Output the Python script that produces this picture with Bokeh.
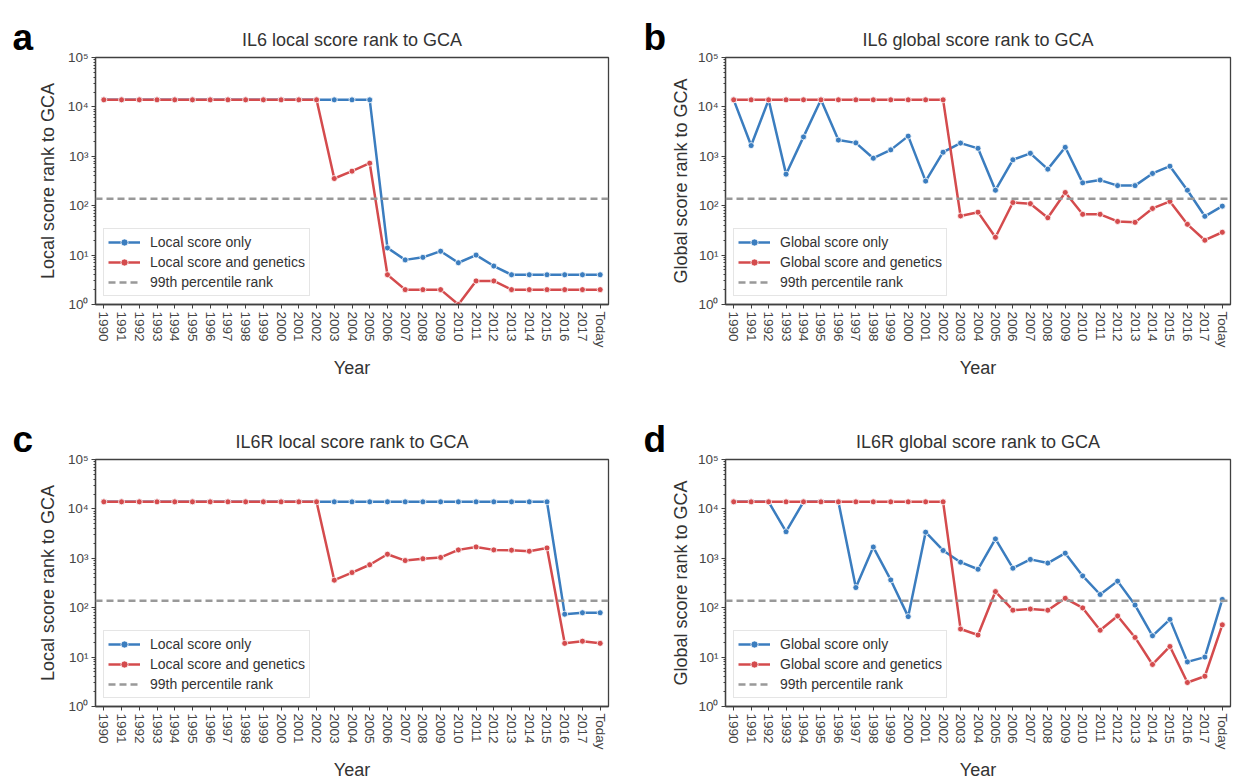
from bokeh.plotting import figure
from bokeh.models import Range1d, FixedTicker, Legend, LegendItem, Span
from bokeh.layouts import column, row
from bokeh.embed import file_html
from bokeh.resources import INLINE

# ---------------- data ----------------
years = ["1990", "1991", "1992", "1993", "1994", "1995", "1996", "1997", "1998", "1999",
         "2000", "2001", "2002", "2003", "2004", "2005", "2006", "2007", "2008", "2009",
         "2010", "2011", "2012", "2013", "2014", "2015", "2016", "2017", "Today"]

percentile_99 = 139

il6_local_only = [13900, 13900, 13900, 13900, 13900, 13900, 13900, 13900, 13900, 13900,
                  13900, 13900, 13900, 13900, 13900, 13900, 14, 8, 9, 12,
                  7, 10, 6, 4, 4, 4, 4, 4, 4]
il6_local_gen = [13900, 13900, 13900, 13900, 13900, 13900, 13900, 13900, 13900, 13900,
                 13900, 13900, 13900, 355, 500, 725, 4, 2, 2, 2,
                 1, 3, 3, 2, 2, 2, 2, 2, 2]

il6_global_only = [13900, 1650, 13900, 435, 2470, 13900, 2130, 1870, 915, 1350,
                   2560, 315, 1210, 1850, 1450, 206, 850, 1150, 550, 1520,
                   290, 330, 255, 255, 450, 630, 206, 61, 98]
il6_global_gen = [13900, 13900, 13900, 13900, 13900, 13900, 13900, 13900, 13900, 13900,
                  13900, 13900, 13900, 62, 74, 23, 116, 110, 57, 185,
                  67, 67, 48, 46, 88, 122, 42, 20, 29]

il6r_local_only = [13900, 13900, 13900, 13900, 13900, 13900, 13900, 13900, 13900, 13900,
                   13900, 13900, 13900, 13900, 13900, 13900, 13900, 13900, 13900, 13900,
                   13900, 13900, 13900, 13900, 13900, 13900, 74, 79, 79]
il6r_local_gen = [13900, 13900, 13900, 13900, 13900, 13900, 13900, 13900, 13900, 13900,
                  13900, 13900, 13900, 361, 515, 740, 1210, 900, 980, 1040,
                  1480, 1700, 1480, 1460, 1390, 1620, 19, 21, 19]

il6r_global_only = [13900, 13900, 13900, 3450, 13900, 13900, 13900, 256, 1690, 365,
                    66, 3380, 1440, 835, 600, 2470, 630, 950, 800, 1270,
                    440, 185, 345, 113, 27, 58, 8, 10, 147]
il6r_global_gen = [13900, 13900, 13900, 13900, 13900, 13900, 13900, 13900, 13900, 13900,
                   13900, 13900, 13900, 37, 28, 212, 89, 94, 89, 155,
                   99, 35, 68, 25, 7.1, 16.4, 3.06, 4.1, 45]

y_ticks = [1, 10, 100, 1000, 10000, 100000]
y_tick_labels = ["10\u2070", "10\u00b9", "10\u00b2", "10\u00b3", "10\u2074", "10\u2075"]

BLUE = "#3b7dbf"
RED = "#d44b4d"
GREY = "#999999"
FONT = "Liberation Sans"

FH = 247


def make_panel(title, ylabel, only, gen, only_label, gen_label,
               fw, bl, br, bt, bb, label_standoff):
    xs = list(range(len(years)))
    p = figure(frame_width=fw, frame_height=FH,
               x_range=Range1d(-0.47, len(years) - 1 + 0.47),
               y_range=Range1d(1, 1e5), y_axis_type="log",
               output_backend="svg", toolbar_location=None,
               min_border_left=bl, min_border_right=br,
               min_border_top=bt, min_border_bottom=bb,
               title=title)
    p.xgrid.visible = False
    p.ygrid.visible = False
    p.outline_line_color = "#404040"
    p.outline_line_width = 1.3
    p.outline_line_alpha = 1.0

    p.title.align = "center"
    p.title.text_font = FONT
    p.title.text_font_size = "18px"
    p.title.text_font_style = "normal"
    p.title.text_color = "#333333"
    p.title.standoff = 16

    for ax in (p.xaxis[0], p.yaxis[0]):
        ax.axis_line_color = "#404040"
        ax.axis_line_width = 1.3
        ax.major_tick_line_color = "#404040"
        ax.minor_tick_line_color = "#404040"
        ax.major_tick_in = 0
        ax.major_tick_out = 4
        ax.minor_tick_in = 0
        ax.minor_tick_out = 2
        ax.major_label_text_font = FONT
        ax.major_label_text_font_size = "13.5px"
        ax.major_label_text_color = "#444444"
        ax.axis_label_text_font = FONT
        ax.axis_label_text_font_size = "18px"
        ax.axis_label_text_font_style = "normal"
        ax.axis_label_text_color = "#333333"
        ax.major_label_standoff = 3

    p.xaxis.ticker = FixedTicker(ticks=xs)
    p.xaxis.major_label_overrides = {i: y for i, y in enumerate(years)}
    p.xaxis.major_label_orientation = "vertical"
    p.xaxis.axis_label = "Year"
    p.xaxis.axis_label_standoff = 7

    minor = []
    for t in y_ticks[:-1]:
        minor += [t * k for k in range(2, 10)]
    p.yaxis.ticker = FixedTicker(ticks=y_ticks, minor_ticks=minor)
    p.yaxis.major_label_overrides = {t: lab for t, lab in zip(y_ticks, y_tick_labels)}
    p.yaxis.axis_label = ylabel
    p.yaxis.axis_label_standoff = label_standoff

    lb = p.line(xs, only, line_color=BLUE, line_width=2.5)
    sb = p.scatter(xs, only, size=6, fill_color=BLUE, line_color="white", line_width=0.8)
    lr = p.line(xs, gen, line_color=RED, line_width=2.5)
    sr = p.scatter(xs, gen, size=6, fill_color=RED, line_color="white", line_width=0.8)

    p.add_layout(Span(location=percentile_99, dimension="width", line_color=GREY,
                      line_width=2.5, line_dash="7 4"))
    # single-point renderer that only provides the legend swatch for the dashed line
    ld = p.line([xs[0]], [percentile_99], line_color=GREY, line_width=2.5, line_dash="7 4")

    legend = Legend(items=[LegendItem(label=only_label, renderers=[lb, sb]),
                           LegendItem(label=gen_label, renderers=[lr, sr]),
                           LegendItem(label="99th percentile rank", renderers=[ld])],
                    location="bottom_left")
    legend.label_text_font = FONT
    legend.label_text_font_size = "14px"
    legend.label_text_color = "#333333"
    legend.border_line_color = "#cccccc"
    legend.border_line_width = 1
    legend.background_fill_alpha = 0.8
    legend.glyph_width = 32
    legend.glyph_height = 18
    legend.label_height = 18
    legend.spacing = 2
    legend.padding = 4
    legend.margin = 8
    legend.label_standoff = 10
    p.add_layout(legend)
    return p


def letter_strip(letter, width, height, top, x_left):
    f = figure(width=width, height=height, x_range=Range1d(0, 1), y_range=Range1d(0, 1),
               output_backend="svg", toolbar_location=None,
               x_axis_location=None, y_axis_location=None,
               min_border_left=0, min_border_right=0, min_border_bottom=0,
               min_border_top=top, title=letter)
    f.xgrid.visible = False
    f.ygrid.visible = False
    f.outline_line_color = None
    f.title.align = "left"
    f.title.offset = x_left
    f.title.standoff = 0
    f.title.text_font = FONT
    f.title.text_font_size = "37px"
    f.title.text_font_style = "bold"
    f.title.text_color = "black"
    return f


H1 = 57 + FH + 100
H2 = 55 + FH + 73

pa = make_panel("IL6 local score rank to GCA", "Local score rank to GCA",
                il6_local_only, il6_local_gen, "Local score only", "Local score and genetics",
                513, 60, 19, 57, 100, 7)
pb = make_panel("IL6 global score rank to GCA", "Global score rank to GCA",
                il6_global_only, il6_global_gen, "Global score only", "Global score and genetics",
                505, 57, 13, 57, 100, 4)
pc = make_panel("IL6R local score rank to GCA", "Local score rank to GCA",
                il6r_local_only, il6r_local_gen, "Local score only", "Local score and genetics",
                513, 60, 19, 55, 73, 7)
pd_ = make_panel("IL6R global score rank to GCA", "Global score rank to GCA",
                 il6r_global_only, il6r_global_gen, "Global score only", "Global score and genetics",
                 505, 57, 13, 55, 73, 4)

la = letter_strip("a", 34, H1, 33, 12)
lb_ = letter_strip("b", 40, H1, 33, 16)
lc = letter_strip("c", 34, H2, 27, 12)
ld_ = letter_strip("d", 40, H2, 27, 16)

layout = column(row(la, pa, lb_, pb), row(lc, pc, ld_, pd_))
open("out.html", "w").write(file_html(layout, INLINE))
